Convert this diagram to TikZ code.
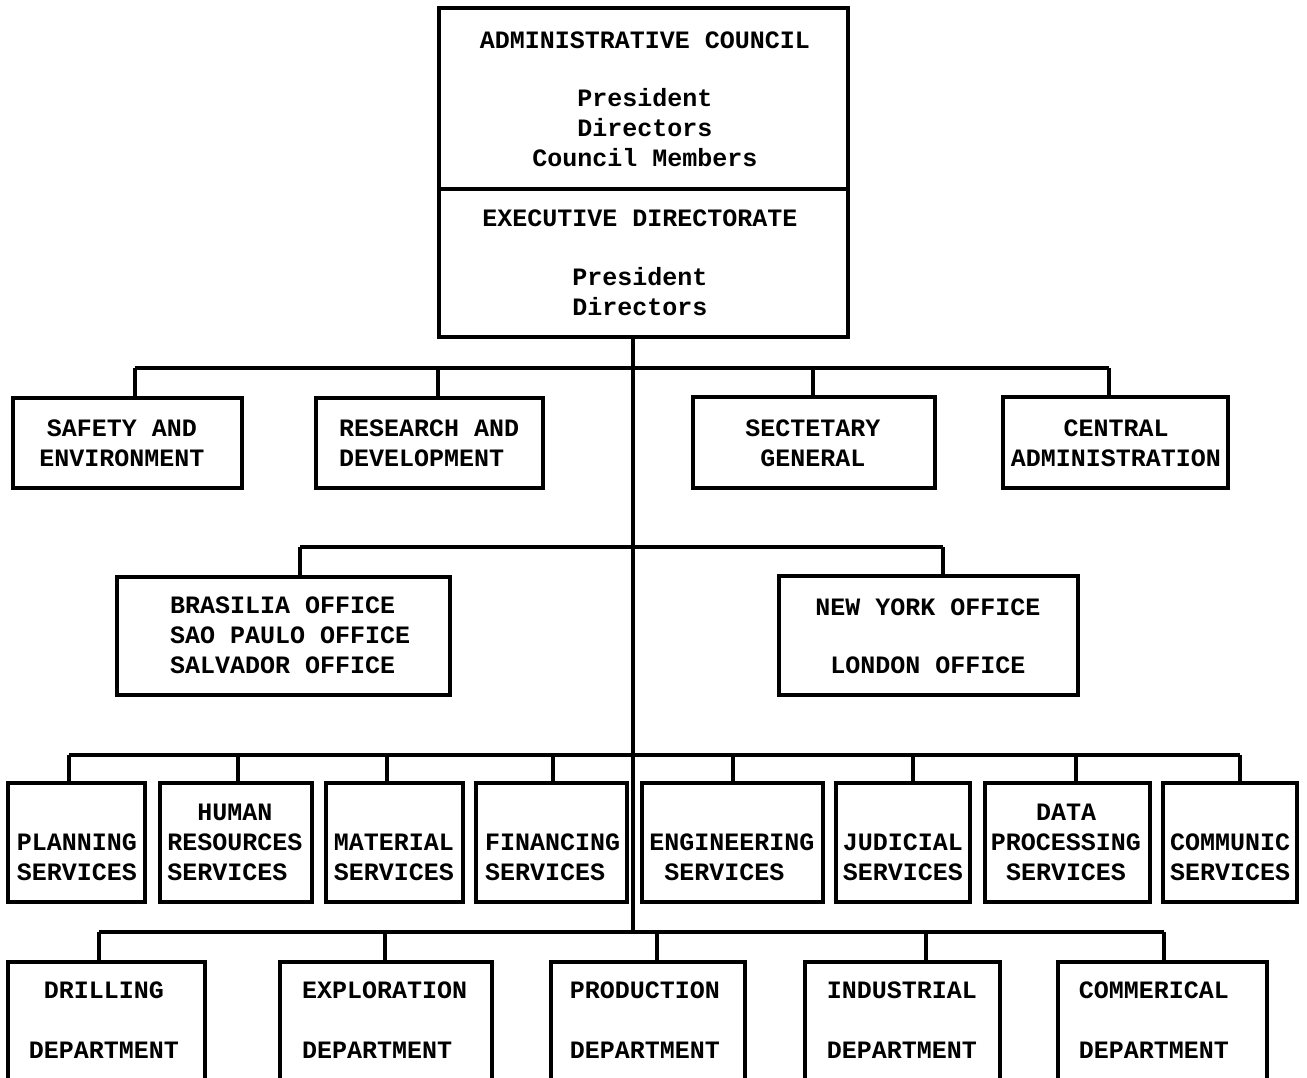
\documentclass[tikz,border=0pt]{standalone}
\usepackage{fontspec}
\setmonofont{Liberation Mono}
\tikzset{
  box/.style={draw, rectangle, line width=3.4pt, inner sep=0pt, outer sep=0pt},
  wire/.style={line width=3.4pt},
  txt/.style={font=\ttfamily\bfseries\fontsize{25}{30}\selectfont, inner sep=0pt, outer sep=0pt, align=center},
  txtl/.style={txt, align=left, anchor=west},
}
\newcommand{\orgbox}[5]{%
  \node[box, minimum width={(#4-#2)*1pt}, minimum height={(#5-#3)*1pt}] (#1) at ({(#2+#4)/2},{(#3+#5)/2}) {};}
\begin{document}
\begin{tikzpicture}[x=1pt,y=-1pt]
\useasboundingbox (0,0) rectangle (1307,1078);

% ---- top boxes
\orgbox{council}{439}{8}{848}{189}
\orgbox{exec}{439}{189}{848}{337}
\node[txt] (council-t) at (645,99) {ADMINISTRATIVE COUNCIL\\[28pt]President\\Directors\\Council Members};
\node[txt] (exec-t) at (640,262.5) {EXECUTIVE DIRECTORATE\\[29pt]President\\Directors};

% ---- row 1
\orgbox{safety}{13}{398}{242}{488}
\orgbox{research}{316}{398}{543}{488}
\orgbox{secretary}{693}{397}{935}{488}
\orgbox{central}{1003}{397}{1228}{488}
\node[txt] (safety-t) at (122,443) {SAFETY AND\\ENVIRONMENT};
\node[txtl] (research-t) at (339,443) {RESEARCH AND\\DEVELOPMENT};
\node[txt] (secretary-t) at (813,443) {SECTETARY\\GENERAL};
\node[txt] (central-t) at (1116,443) {CENTRAL\\ADMINISTRATION};

% ---- row 2
\orgbox{brasilia}{117}{577}{450}{695}
\orgbox{newyork}{779}{576}{1078}{695}
\node[txtl] (brasilia-t) at (170,635.5) {BRASILIA OFFICE\\SAO PAULO OFFICE\\SALVADOR OFFICE};
\node[txt] (newyork-t) at (928,636) {NEW YORK OFFICE\\[28pt]LONDON OFFICE};

% ---- row 3 services
\orgbox{planning}{8}{783}{145}{902}
\orgbox{human}{160}{783}{312}{902}
\orgbox{material}{326}{783}{463}{902}
\orgbox{financing}{476}{783}{627}{902}
\orgbox{engineering}{642}{783}{823}{902}
\orgbox{judicial}{836}{783}{970}{902}
\orgbox{data}{985}{783}{1150}{902}
\orgbox{communic}{1163}{783}{1297}{902}
\node[txt] (planning-t) at (77,857) {PLANNING\\SERVICES};
\node[txt] (human-t) at (235,842) {HUMAN\\RESOURCES\\SERVICES\hphantom{W}};
\node[txt] (material-t) at (394,857) {MATERIAL\\SERVICES};
\node[txtl] (financing-t) at (485,857) {FINANCING\\SERVICES};
\node[txt] (engineering-t) at (732,857) {ENGINEERING\\SERVICES\hphantom{W}};
\node[txt] (judicial-t) at (903,857) {JUDICIAL\\SERVICES};
\node[txt] (data-t) at (1066,842) {DATA\\PROCESSING\\SERVICES};
\node[txt] (communic-t) at (1230,857) {COMMUNIC\\SERVICES};

% ---- row 4 departments (bottoms run off the page)
\orgbox{drilling}{8}{962}{205}{1110}
\orgbox{exploration}{280}{962}{492}{1110}
\orgbox{production}{551}{962}{745}{1110}
\orgbox{industrial}{805}{962}{1000}{1110}
\orgbox{commerical}{1058}{962}{1267}{1110}
\node[txt] (drilling-t) at (104,1020) {DRILLING\\[30pt]DEPARTMENT};
\node[txtl] (exploration-t) at (302,1020) {EXPLORATION\\[30pt]DEPARTMENT};
\node[txt] (production-t) at (645,1020) {PRODUCTION\\[30pt]DEPARTMENT};
\node[txt] (industrial-t) at (902,1020) {INDUSTRIAL\\[30pt]DEPARTMENT};
\node[txt] (commerical-t) at (1154,1020) {COMMERICAL\\[30pt]DEPARTMENT};

% ---- bus coordinates
\coordinate (b1l) at (135,368);  \coordinate (b1r) at (1109,368);
\coordinate (b1a) at (438,368);  \coordinate (b1b) at (813,368);
\coordinate (b2l) at (300,547);  \coordinate (b2r) at (943,547);
\coordinate (b3a) at (69,755);   \coordinate (b3b) at (238,755);
\coordinate (b3c) at (387,755);  \coordinate (b3d) at (553,755);
\coordinate (b3e) at (733,755);  \coordinate (b3f) at (913,755);
\coordinate (b3g) at (1076,755); \coordinate (b3h) at (1240,755);
\coordinate (b4a) at (99,932);   \coordinate (b4b) at (385,932);
\coordinate (b4c) at (657,932);  \coordinate (b4d) at (926,932);
\coordinate (b4e) at (1164,932);
\coordinate (trunkend) at (633,932);

% ---- trunk and buses
\draw[wire] (exec.south -| trunkend) -- (trunkend);
\draw[wire] (b1l) -- (b1r);
\draw[wire] (b2l) -- (b2r);
\draw[wire] (b3a) -- (b3h);
\draw[wire] (b4a) -- (b4e);

% ---- drops
\draw[wire] (b1l) -- (safety.north -| b1l);
\draw[wire] (b1a) -- (research.north -| b1a);
\draw[wire] (b1b) -- (secretary.north -| b1b);
\draw[wire] (b1r) -- (central.north -| b1r);
\draw[wire] (b2l) -- (brasilia.north -| b2l);
\draw[wire] (b2r) -- (newyork.north -| b2r);
\draw[wire] (b3a) -- (planning.north -| b3a);
\draw[wire] (b3b) -- (human.north -| b3b);
\draw[wire] (b3c) -- (material.north -| b3c);
\draw[wire] (b3d) -- (financing.north -| b3d);
\draw[wire] (b3e) -- (engineering.north -| b3e);
\draw[wire] (b3f) -- (judicial.north -| b3f);
\draw[wire] (b3g) -- (data.north -| b3g);
\draw[wire] (b3h) -- (communic.north -| b3h);
\draw[wire] (b4a) -- (drilling.north -| b4a);
\draw[wire] (b4b) -- (exploration.north -| b4b);
\draw[wire] (b4c) -- (production.north -| b4c);
\draw[wire] (b4d) -- (industrial.north -| b4d);
\draw[wire] (b4e) -- (commerical.north -| b4e);
\end{tikzpicture}
\end{document}
